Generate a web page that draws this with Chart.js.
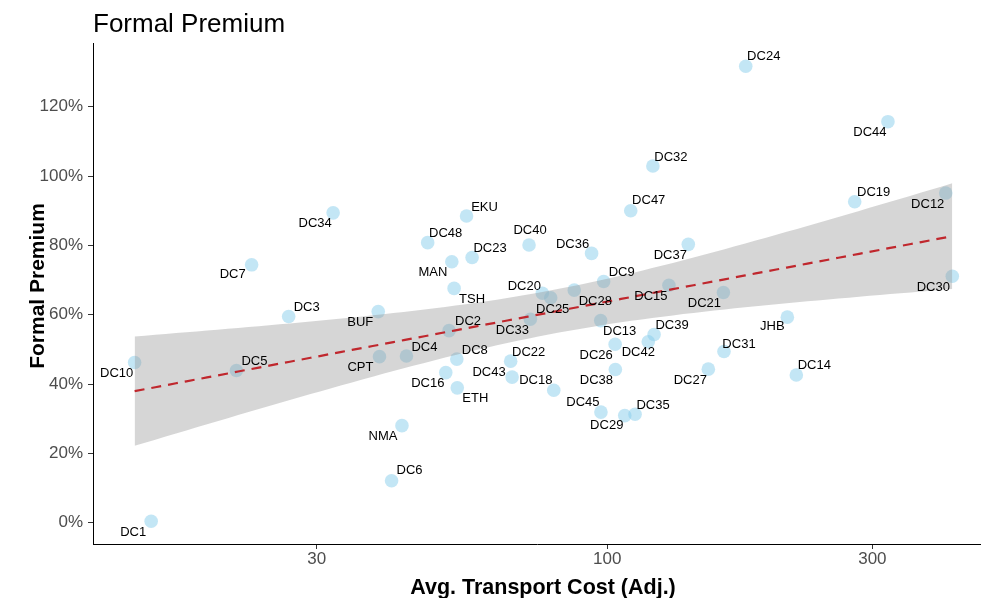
<!DOCTYPE html>
<html>
<head>
<meta charset="utf-8">
<script src="https://cdn.jsdelivr.net/npm/chart.js@4/dist/chart.umd.min.js"></script>
<style>
  html, body { margin: 0; padding: 0; background: #ffffff; }
  #wrap { width: 981px; height: 598px; position: relative; }
</style>
</head>
<body>
<div id="wrap"><canvas id="c" width="981" height="598"></canvas></div>
<script>
// ---------------- DATA ----------------
const names = ["DC1","DC10","DC5","DC7","DC3","DC34","BUF","CPT","NMA","DC6",
  "DC4","DC48","EKU","MAN","DC23","TSH","DC2","DC8","DC16","ETH",
  "DC33","DC22","DC43","DC40","DC36","DC20","DC25","DC28","DC9","DC15",
  "DC21","DC37","DC47","DC32","DC24","DC44","DC19","DC12","DC30","DC13",
  "DC26","DC38","DC39","DC42","DC18","DC45","DC29","DC35","DC27","DC31",
  "JHB","DC14"];
// Avg. Transport Cost (Adj.)
const costs = [15.1,14.1,21.5,22.9,26.7,32.1,38.7,38.9,42.7,40.9,
  43.5,47.5,55.8,52.5,57.1,53.0,51.9,53.6,51.2,53.7,
  72.7,67.0,67.4,72.3,93.7,76.4,79.1,87.2,98.5,129.1,
  161.8,139.9,110.2,120.8,177.5,320.0,278.8,406.6,417.8,97.3,
  103.3,103.4,121.4,118.5,80.1,97.4,107.5,112.2,152.0,162.2,
  210.9,218.9];
// Formal Premium (%)
const premiums = [0.4,46.2,43.9,74.4,59.5,89.4,60.9,47.9,28.0,12.1,
  48.1,80.8,88.5,75.3,76.5,67.6,55.4,47.2,43.3,38.9,
  58.7,46.6,42.0,80.1,77.7,66.2,64.9,67.1,69.6,68.5,
  66.4,80.3,90.0,102.9,131.7,115.7,92.6,95.1,71.1,58.3,
  51.5,44.2,54.3,52.2,38.2,31.9,30.9,31.3,44.3,49.4,
  59.3,42.6];
const xTickValues = [30, 100, 300];
const yTickValues = [0, 20, 40, 60, 80, 100, 120];

// ---------------- LAYOUT / STYLE ----------------
// pixel nudges of each text label from its point (repel-style placement)
const labelNudges = [[-18,11],[-18,11],[18,-9],[-19,10],[18,-9],[-18,11],[-18,11],[-19,11],[-19,11],[18,-10],
  [18,-9],[18,-9],[18,-9],[-19,11],[18,-9],[18,11],[19,-9],[18,-9],[-18,11],[18,11],
  [-18,11],[18,-9],[-23,-5],[1,-15],[-19,-9],[-18,-7],[2,12],[21,11],[18,-9],[-18,11],
  [-19,11],[-18,11],[18,-10],[18,-9],[18,-10],[-18,11],[19,-9],[-18,11],[-19,11],[19,11],
  [-19,11],[-19,11],[18,-9],[-10,11],[-18,-10],[-18,-10],[-18,10],[18,-9],[-18,11],[15,-7],
  [-15,9],[18,-10]];

const FONT = "'Liberation Sans', Arial, Helvetica, sans-serif";

// ---------------- LINEAR FIT (lm on log10 x) with 95% CI ----------------
const lx = costs.map(v => Math.log10(v));
const n = lx.length;
const mx = lx.reduce((a,b)=>a+b,0)/n;
const my = premiums.reduce((a,b)=>a+b,0)/n;
let sxx = 0, sxy = 0;
for (let i=0;i<n;i++){ sxx += (lx[i]-mx)**2; sxy += (lx[i]-mx)*(premiums[i]-my); }
const slope = sxy/sxx;
const icpt = my - slope*mx;
let sse = 0;
for (let i=0;i<n;i++){ const r = premiums[i]-(icpt+slope*lx[i]); sse += r*r; }
const sigma = Math.sqrt(sse/(n-2));
const tCrit = 2.0086; // t(0.975, df=50)
const lxMin = Math.min(...lx), lxMax = Math.max(...lx);
const fitLine = [], bandUp = [], bandLo = [];
const NP = 80;
for (let k=0;k<NP;k++){
  const l = lxMin + (lxMax-lxMin)*k/(NP-1);
  const yh = icpt + slope*l;
  const se = sigma*Math.sqrt(1/n + (l-mx)**2/sxx);
  const x = Math.pow(10,l);
  fitLine.push({x, y: yh});
  bandUp.push({x, y: yh + tCrit*se});
  bandLo.push({x, y: yh - tCrit*se});
}

const points = costs.map((c,i)=>({x:c, y:premiums[i]}));

// ---------------- TEXT PLUGIN ----------------
const textPlugin = {
  id: 'texts',
  afterDraw(chart){
    const ctx = chart.ctx;
    const xs = chart.scales.x, ys = chart.scales.y;
    ctx.save();
    // point labels
    ctx.fillStyle = '#000000';
    ctx.font = "13px " + FONT;
    ctx.textAlign = 'center';
    ctx.textBaseline = 'middle';
    for (let i=0;i<n;i++){
      const px = xs.getPixelForValue(costs[i]);
      const py = ys.getPixelForValue(premiums[i]);
      ctx.fillText(names[i], px + labelNudges[i][0], py + labelNudges[i][1]);
    }
    // title
    ctx.textAlign = 'left';
    ctx.textBaseline = 'alphabetic';
    ctx.font = "26px " + FONT;
    ctx.fillText('Formal Premium', 93, 32);
    // x axis title
    ctx.font = "bold 21.5px " + FONT;
    ctx.textAlign = 'center';
    ctx.fillText('Avg. Transport Cost (Adj.)', 543, 594);
    // y axis title
    ctx.font = "bold 21px " + FONT;
    ctx.translate(44, 286);
    ctx.rotate(-Math.PI/2);
    ctx.fillText('Formal Premium', 0, 0);
    ctx.restore();
  }
};

new Chart(document.getElementById('c'), {
  type: 'scatter',
  data: {
    datasets: [
      { type:'scatter', data: points, order: 3,
        backgroundColor: 'rgba(135,206,235,0.5)', borderWidth: 0,
        pointRadius: 6.8, pointHoverRadius: 6.8 },
      { type:'line', data: bandUp, order: 2, fill: '+1',
        backgroundColor: 'rgba(153,153,153,0.4)', borderWidth: 0,
        pointRadius: 0, tension: 0 },
      { type:'line', data: bandLo, order: 2, fill: false,
        borderWidth: 0, pointRadius: 0, tension: 0 },
      { type:'line', data: fitLine, order: 1, fill: false,
        borderColor: '#C0272D', borderWidth: 2.2, borderDash: [10,7],
        pointRadius: 0, tension: 0 }
    ]
  },
  options: {
    responsive: false,
    animation: false,
    events: [],
    layout: { autoPadding: false, padding: { left: 0, right: 0, top: 43, bottom: 0 } },
    plugins: { legend: { display:false }, tooltip: { enabled:false }, title: { display:false } },
    scales: {
      x: {
        type: 'logarithmic',
        position: 'bottom',
        min: 11.866, max: 470.6,
        afterBuildTicks(scale){ scale.ticks = xTickValues.map(v=>({value:v})); },
        afterFit(scale){ scale.height = 54; },
        grid: { display: true, drawOnChartArea: false, drawTicks: true, tickLength: 5, color: '#333333', tickColor: '#333333' },
        border: { display: true, color: '#000000', width: 1 },
        ticks: { autoSkip: false, maxRotation: 0, padding: 0, color: '#4D4D4D',
                 font: { family: FONT, size: 17 }, callback: (v)=> String(v) }
      },
      y: {
        type: 'linear',
        position: 'left',
        min: -6.15, max: 138.4,
        afterBuildTicks(scale){ scale.ticks = yTickValues.map(v=>({value:v})); },
        afterFit(scale){ scale.width = 93; },
        grid: { display: true, drawOnChartArea: false, drawTicks: true, tickLength: 5, color: '#333333', tickColor: '#333333' },
        border: { display: true, color: '#000000', width: 1 },
        ticks: { autoSkip: false, padding: 5, color: '#4D4D4D',
                 font: { family: FONT, size: 17 }, callback: (v)=> v + '%' }
      }
    }
  },
  plugins: [textPlugin]
});
</script>
</body>
</html>
